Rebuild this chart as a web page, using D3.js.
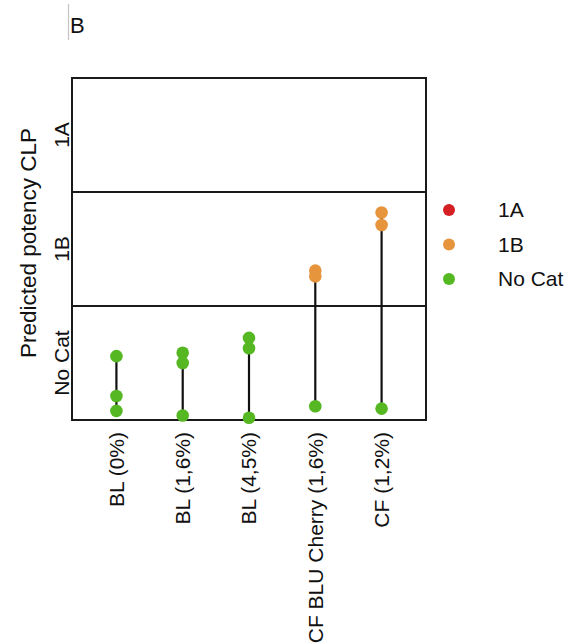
<!DOCTYPE html>
<html>
<head>
<meta charset="utf-8">
<script src="https://cdn.jsdelivr.net/npm/d3@7"></script>
<style>
  html, body { margin: 0; padding: 0; background: #fff; }
  svg { display: block; font-family: "Liberation Sans", Arial, sans-serif; }
</style>
</head>
<body>
<svg id="chart" width="569" height="643"></svg>
<script>
// Products tested
const categories = ["BL (0%)", "BL (1,6%)", "BL (4,5%)", "CF BLU Cherry (1,6%)", "CF (1,2%)"];

// Predicted potency scores per product (0-1 No Cat, 1-2 1B, 2-3 1A)
const potencyScores = [
  [0.56, 0.21, 0.08],
  [0.59, 0.50, 0.04],
  [0.72, 0.63, 0.02],
  [1.31, 1.26, 0.12],
  [1.82, 1.71, 0.10]
];

// Potency classes, bottom to top, with their score bands
const classNames = ["No Cat", "1B", "1A"];
const classBands = [[0, 1], [1, 2], [2, 3]];
const classColors = ["#55b823", "#e6953d", "#d41f24"];

// Legend order
const legendClasses = ["1A", "1B", "No Cat"];

const svg = d3.select("#chart");
const plot = { left: 72, right: 426, top: 78, bottom: 420 };

const x = d3.scalePoint()
  .domain(categories)
  .range([plot.left, plot.right])
  .padding(0.67);

const y = d3.scaleLinear()
  .domain([0, 3])
  .range([plot.bottom, plot.top]);

const color = d3.scaleOrdinal().domain(classNames).range(classColors);

function classOf(v) {
  const i = classBands.findIndex(b => v >= b[0] && v < b[1]);
  return classNames[i < 0 ? classNames.length - 1 : i];
}

// Panel letter
svg.append("line")
  .attr("x1", 68.5).attr("x2", 68.5).attr("y1", 4).attr("y2", 40)
  .attr("stroke", "#c4c4c4").attr("stroke-width", 1.2);
svg.append("text")
  .attr("x", 70).attr("y", 33)
  .attr("font-size", 22).attr("fill", "#111")
  .text("B");

// Band separators
svg.append("g")
  .selectAll("line")
  .data(classBands.slice(1))
  .join("line")
  .attr("x1", plot.left).attr("x2", plot.right)
  .attr("y1", d => y(d[0])).attr("y2", d => y(d[0]))
  .attr("stroke", "#1a1a1a").attr("stroke-width", 1.8);

// Range segments per product
const groups = categories.map((c, i) => ({ cat: c, vals: potencyScores[i] }));
svg.append("g")
  .selectAll("line")
  .data(groups)
  .join("line")
  .attr("x1", d => x(d.cat)).attr("x2", d => x(d.cat))
  .attr("y1", d => y(d3.min(d.vals))).attr("y2", d => y(d3.max(d.vals)))
  .attr("stroke", "#111").attr("stroke-width", 2.2);

// Frame
svg.append("rect")
  .attr("x", plot.left).attr("y", plot.top)
  .attr("width", plot.right - plot.left).attr("height", plot.bottom - plot.top)
  .attr("fill", "none").attr("stroke", "#1a1a1a").attr("stroke-width", 2);

// Points
const pts = groups.flatMap(g => g.vals.map(v => ({ cat: g.cat, v })));
svg.append("g")
  .selectAll("circle")
  .data(pts)
  .join("circle")
  .attr("cx", d => x(d.cat))
  .attr("cy", d => y(d.v))
  .attr("r", 6.3)
  .attr("fill", d => color(classOf(d.v)));

// Y class labels
svg.append("g")
  .selectAll("text")
  .data(classNames)
  .join("text")
  .attr("transform", (d, i) => `translate(69,${y((classBands[i][0] + classBands[i][1]) / 2)}) rotate(-90)`)
  .attr("text-anchor", "middle")
  .attr("font-size", 21).attr("fill", "#111")
  .text(d => d);

// Y axis title
svg.append("text")
  .attr("transform", `translate(36,${(plot.top + plot.bottom) / 2 - 6}) rotate(-90)`)
  .attr("text-anchor", "middle")
  .attr("font-size", 22.5).attr("fill", "#111")
  .text("Predicted potency CLP");

// X category labels
svg.append("g")
  .selectAll("text")
  .data(categories)
  .join("text")
  .attr("transform", d => `translate(${x(d)},432) rotate(-90)`)
  .attr("text-anchor", "end")
  .attr("dy", "0.35em")
  .attr("font-size", 21).attr("fill", "#111")
  .text(d => d);

// Legend
const legend = svg.append("g")
  .selectAll("g")
  .data(legendClasses)
  .join("g")
  .attr("transform", (d, i) => `translate(449,${210 + i * 34.5})`);
legend.append("circle").attr("r", 6).attr("fill", d => color(d));
legend.append("text")
  .attr("x", 49).attr("dy", "0.35em")
  .attr("font-size", 21).attr("fill", "#111")
  .text(d => d);
</script>
</body>
</html>
